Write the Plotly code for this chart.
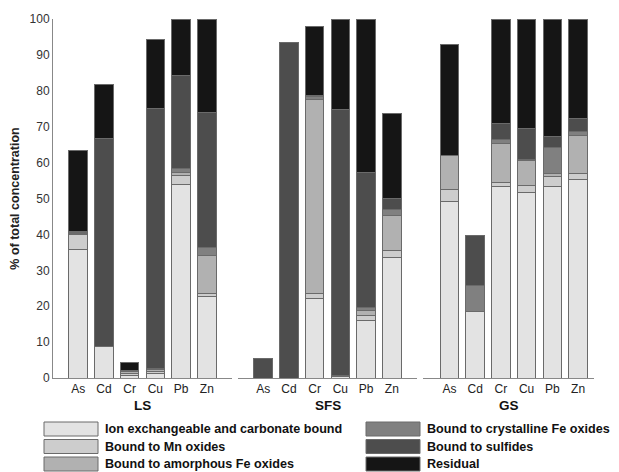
import plotly.graph_objects as go

# page has an 8px body margin, so the figure is drawn 8px smaller and offset
OFF = 8
W, H = 619 - OFF, 472 - OFF
metals = ["As", "Cd", "Cr", "Cu", "Pb", "Zn"]
sites = ["LS", "SFS", "GS"]
fractions = ["Ion exchangeable and carbonate bound", "Bound to Mn oxides",
             "Bound to amorphous Fe oxides", "Bound to crystalline Fe oxides",
             "Bound to sulfides", "Residual"]
colors = ["#e3e3e3", "#cdcdcd", "#b1b1b1", "#808080", "#4d4d4d", "#151515"]

# values per site: rows = fractions, columns = metals (As, Cd, Cr, Cu, Pb, Zn)
LS = [
    [35.7, 8.8, 0.7, 1.2, 53.9, 22.8],
    [4.2, None, 0.5, 0.6, 2.5, 0.8],
    [0.3, None, 0.5, 0.5, 0.9, 10.6],
    [0.3, None, 0.2, 0.3, 1.0, 2.1],
    [0.4, 57.8, 0.3, 72.4, 25.9, 37.6],
    [22.6, 15.2, 2.2, 19.3, 15.8, 26.1],
]
SFS = [
    [None, None, 22.2, 0.5, 15.9, 33.7],
    [None, None, 1.4, None, 1.4, 1.9],
    [None, None, 54.0, None, 1.6, 9.7],
    [None, None, 0.7, 0.3, 0.7, 1.5],
    [5.5, 93.5, 0.4, 73.9, 37.7, 3.1],
    [None, None, 19.2, 25.3, 42.7, 23.8],
]
GS = [
    [49.1, 18.5, 53.3, 51.6, 53.3, 55.2],
    [3.4, None, 1.2, 2.0, 2.8, 1.8],
    [9.5, None, 10.9, 7.0, 0.9, 10.6],
    [None, 7.4, 1.1, 0.4, 7.2, 1.2],
    [None, 13.7, 4.3, 8.5, 3.2, 3.4],
    [30.8, None, 29.2, 30.5, 32.6, 27.8],
]
data = {"LS": LS, "SFS": SFS, "GS": GS}

# layout geometry (page pixels)
top, bottom = 19, 378
domains_px = {"LS": (53, 232), "SFS": (238, 417), "GS": (423, 594)}
ranges = {"LS": [-0.98, 5.98], "SFS": [-0.98, 5.98], "GS": [-1.03, 5.62]}
FONT = "Arial, Liberation Sans, sans-serif"


def pxx(p):
    return (p - OFF) / W


def pyy(p):
    return (bottom - p) / (bottom - top)


fig = go.Figure()
axnames = ["x", "x2", "x3"]
for si, site in enumerate(sites):
    for fi, fr in enumerate(fractions):
        fig.add_trace(go.Bar(
            x=metals, y=data[site][fi], name=fr,
            xaxis=axnames[si], yaxis="y",
            marker=dict(color=colors[fi], line=dict(color="#6a6a6a", width=1)),
            width=0.72, showlegend=False,
        ))

layout = dict(
    width=W, height=H, barmode="stack",
    margin=dict(l=0, r=0, t=top - OFF, b=472 - bottom),
    paper_bgcolor="white", plot_bgcolor="white",
    font=dict(family=FONT, size=12, color="#222"),
    yaxis=dict(range=[0, 100], dtick=10, showgrid=False, zeroline=False,
               showline=True, linecolor="#888", linewidth=1, ticks="",
               anchor="x", tickfont=dict(size=12, color="#333"),
               title=dict(text="<b>% of total concentration</b>",
                          font=dict(size=12.5, color="#222"), standoff=10)),
)
for si, site in enumerate(sites):
    x0, x1 = domains_px[site]
    key = "xaxis" if si == 0 else f"xaxis{si + 1}"
    layout[key] = dict(domain=[pxx(x0), pxx(x1)], range=ranges[site],
                       anchor="y", showgrid=False, zeroline=False,
                       showline=True, linecolor="#888", linewidth=1,
                       ticks="", tickfont=dict(size=12, color="#222"),
                       fixedrange=True)
fig.update_layout(**layout)

annotations = []
for site in sites:
    x0, x1 = domains_px[site]
    annotations.append(dict(text=f"<b>{site}</b>", x=pxx((x0 + x1) / 2), y=pyy(405),
                            xref="paper", yref="paper", showarrow=False,
                            font=dict(size=13.5, color="#111"),
                            xanchor="center", yanchor="middle"))

shapes = []
rows_y = [429, 446.5, 464]
cols = [(44, 98, 103), (366, 420, 425)]
for i, fr in enumerate(fractions):
    c = i // 3
    r = i % 3
    sx0, sx1, tx = cols[c]
    cy = rows_y[r]
    shapes.append(dict(type="rect", xref="paper", yref="paper",
                       x0=pxx(sx0), x1=pxx(sx1), y0=pyy(cy + 7), y1=pyy(cy - 7),
                       fillcolor=colors[i], line=dict(color="#6a6a6a", width=1)))
    annotations.append(dict(text=f"<b>{fr}</b>", x=pxx(tx), y=pyy(cy),
                            xref="paper", yref="paper", showarrow=False,
                            font=dict(size=12.6, color="#111"),
                            xanchor="left", yanchor="middle"))

fig.update_layout(annotations=annotations, shapes=shapes)
fig.write_html("out.html")
